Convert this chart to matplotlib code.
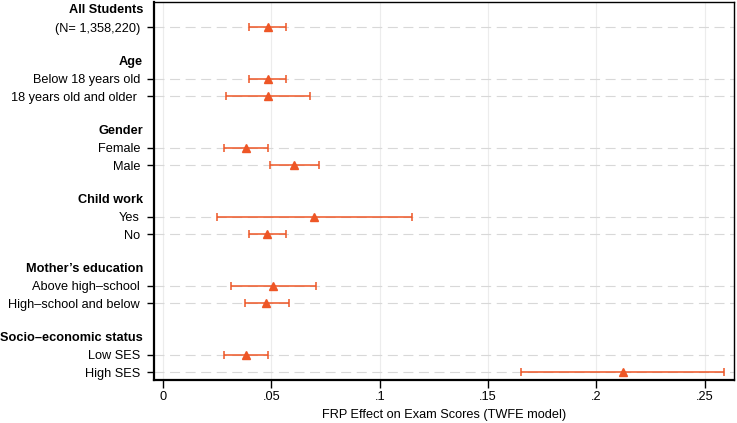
import numpy as np
import matplotlib.pyplot as plt

plt.rcParams['font.family'] = ['Liberation Sans', 'DejaVu Sans']

# groups and subgroup rows
headers = ["All Students", "Age", "Gender", "Child work",
           "Mother\u2019s education", "Socio\u2013economic status"]
labels = ["(N= 1,358,220)",
          "Below 18 years old", "18 years old and older ",
          "Female", "Male",
          "Yes", "No",
          "Above high\u2013school", "High\u2013school and below",
          "Low SES", "High SES"]
group_of = [0, 1, 1, 2, 2, 3, 3, 4, 4, 5, 5]

est = [0.0484, 0.0484, 0.0484, 0.0382, 0.0604, 0.0696, 0.0479, 0.0507, 0.0475, 0.0382, 0.2121]
lo = [0.0396, 0.0396, 0.0290, 0.0281, 0.0493, 0.0249, 0.0396, 0.0313, 0.0378, 0.0281, 0.1653]
hi = [0.0567, 0.0567, 0.0680, 0.0484, 0.0719, 0.1147, 0.0567, 0.0705, 0.0580, 0.0484, 0.2587]

xticks = [0, 0.05, 0.1, 0.15, 0.2, 0.25]
xticklabels = ["0", ".05", ".1", ".15", ".2", ".25"]

# row positions: header, then its rows, then a blank gap
row_pos = []
head_pos = []
r = 0
for g in range(len(headers)):
    head_pos.append(r)
    r += 1
    for i, gg in enumerate(group_of):
        if gg == g:
            row_pos.append(r)
            r += 1
    r += 1

color = '#EE5626'
fs = 9.2
fig = plt.figure(figsize=(7.37, 4.23), dpi=100)
ax = fig.add_axes([154 / 737, 1 - 380 / 423, (734 - 154) / 737, 378 / 423])

est = np.array(est)
lo = np.array(lo)
hi = np.array(hi)
ax.errorbar(est, row_pos, xerr=[est - lo, hi - est], fmt='^', color=color,
            ms=6, elinewidth=1.1, capsize=3, capthick=1.1, zorder=3)

ax.set_ylim(21.45, -0.45)
ax.set_xlim(-0.0042, 0.2635)
ax.set_yticks(row_pos)
ax.set_yticklabels(labels, fontsize=fs)
ax.set_xticks(xticks)
ax.set_xticklabels(xticklabels, fontsize=fs)
ax.tick_params(axis='y', length=5, width=1, pad=5)
ax.tick_params(axis='x', length=6, width=1, pad=2)

for y in row_pos:
    ax.axhline(y, color='#d8d8d8', lw=0.8, ls=(0, (9, 5)), zorder=1)
for x in xticks:
    ax.axvline(x, color='#ececec', lw=0.8, zorder=0)

for g, y in zip(headers, head_pos):
    ax.text(-0.019, y, g, transform=ax.get_yaxis_transform(), ha='right',
            va='center', fontsize=fs, fontweight='bold')

for s in ['left', 'bottom']:
    ax.spines[s].set_linewidth(1.6)
for s in ['top', 'right']:
    ax.spines[s].set_linewidth(1.0)

ax.set_xlabel("FRP Effect on Exam Scores (TWFE model)", fontsize=fs, labelpad=4)

fig.savefig("out.png", dpi=100)
